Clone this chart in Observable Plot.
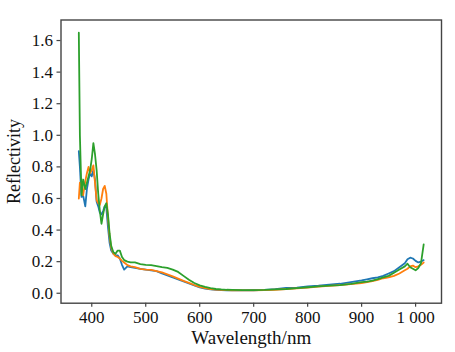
<!DOCTYPE html>
<html>
<head>
<meta charset="utf-8">
<script src="https://cdn.jsdelivr.net/npm/d3@7"></script>
<script src="https://cdn.jsdelivr.net/npm/@observablehq/plot@0.6"></script>
<style>
  html, body { margin: 0; padding: 0; background: #fff; }
</style>
</head>
<body>
<div id="chart"></div>
<script>
const wavelengths = [
  376,378,381,384,388,391,394,397,400,403,
  406,409,412,415,418,421,424,427,430,433,
  436,440,444,448,452,456,460,466,472,480,
  490,500,510,520,530,540,550,560,570,580,
  590,600,610,620,630,640,650,660,680,700,
  720,740,760,780,800,820,840,860,880,900,
  910,920,930,940,950,960,970,980,985,990,
  995,1000,1005,1010,1015
];
const blueSeries = [
  0.90,0.80,0.61,0.62,0.55,0.66,0.72,0.76,0.74,0.78,
  0.72,0.58,0.55,0.51,0.50,0.52,0.55,0.54,0.42,0.32,
  0.27,0.25,0.24,0.24,0.22,0.18,0.15,0.17,0.165,0.16,
  0.155,0.15,0.145,0.14,0.125,0.113,0.10,0.088,0.075,0.062,
  0.05,0.037,0.03,0.025,0.022,0.02,0.019,0.018,0.018,0.019,
  0.021,0.026,0.034,0.036,0.043,0.048,0.055,0.06,0.07,0.081,
  0.088,0.095,0.10,0.11,0.125,0.14,0.165,0.19,0.215,0.225,
  0.22,0.205,0.195,0.20,0.21
];
const orangeSeries = [
  0.60,0.70,0.68,0.62,0.71,0.76,0.80,0.76,0.78,0.81,
  0.70,0.59,0.57,0.56,0.60,0.66,0.68,0.63,0.48,0.36,
  0.29,0.25,0.235,0.23,0.22,0.205,0.195,0.178,0.17,0.165,
  0.155,0.15,0.148,0.14,0.132,0.12,0.107,0.093,0.078,0.066,
  0.052,0.04,0.032,0.026,0.023,0.021,0.02,0.019,0.018,0.018,
  0.02,0.022,0.027,0.031,0.036,0.042,0.047,0.052,0.058,0.064,
  0.07,0.077,0.085,0.095,0.10,0.11,0.125,0.145,0.155,0.17,
  0.175,0.165,0.17,0.18,0.195
];
const greenSeries = [
  1.65,1.00,0.62,0.72,0.66,0.70,0.74,0.78,0.85,0.95,
  0.88,0.78,0.63,0.52,0.44,0.50,0.55,0.57,0.50,0.38,
  0.30,0.26,0.25,0.27,0.27,0.23,0.21,0.20,0.195,0.195,
  0.185,0.18,0.178,0.172,0.165,0.16,0.15,0.135,0.11,0.085,
  0.065,0.05,0.04,0.032,0.027,0.024,0.022,0.021,0.02,0.02,
  0.021,0.024,0.027,0.033,0.038,0.043,0.048,0.052,0.06,0.07,
  0.074,0.08,0.09,0.10,0.11,0.13,0.15,0.17,0.187,0.165,
  0.155,0.145,0.16,0.19,0.31
];
const seriesNames = ["s1", "s2", "s3"];
const seriesColors = ["#1f77b4", "#ff7f0e", "#2ca02c"];
const xTicks = [400, 500, 600, 700, 800, 900, 1000];
const yTicks = [0.0, 0.2, 0.4, 0.6, 0.8, 1.0, 1.2, 1.4, 1.6];

const allSeries = [blueSeries, orangeSeries, greenSeries];
const data = [];
allSeries.forEach((vals, si) => {
  vals.forEach((v, i) => data.push({series: seriesNames[si], wl: wavelengths[i], r: v}));
});

const chart = Plot.plot({
  width: 455,
  height: 352,
  marginLeft: 60.5,
  marginRight: 14,
  marginTop: 19.5,
  marginBottom: 49.3,
  style: {fontFamily: "'Liberation Serif', 'Times New Roman', serif", fontSize: "17px", color: "#111", background: "#fff"},
  x: {domain: [343, 1048]},
  y: {domain: [-0.063, 1.73]},
  color: {domain: seriesNames, range: seriesColors},
  marks: [
    Plot.axisX({
      ticks: xTicks,
      tickSize: 4,
      tickPadding: 4,
      tickFormat: d => d === 1000 ? "1 000" : String(d),
      stroke: "#444",
      strokeWidth: 1.2,
      label: null,
      fontSize: 17
    }),
    Plot.axisX({
      ticks: [],
      label: "Wavelength/nm",
      labelAnchor: "center",
      labelArrow: "none",
      labelOffset: 41,
      dx: -6,
      fontSize: 19
    }),
    Plot.axisY({
      ticks: yTicks,
      tickSize: 4,
      tickPadding: 4,
      tickFormat: d => d.toFixed(1),
      stroke: "#444",
      strokeWidth: 1.2,
      label: null,
      fontSize: 17
    }),
    Plot.axisY({
      ticks: [],
      label: "Reflectivity",
      labelAnchor: "center",
      labelArrow: "none",
      labelOffset: 54,
      fontSize: 18
    }),
    Plot.line(data, {x: "wl", y: "r", z: "series", stroke: "series", strokeWidth: 1.8, strokeLinejoin: "round"}),
    Plot.frame({stroke: "#444", strokeWidth: 1.4})
  ]
});
document.getElementById("chart").appendChild(chart);
</script>
</body>
</html>
